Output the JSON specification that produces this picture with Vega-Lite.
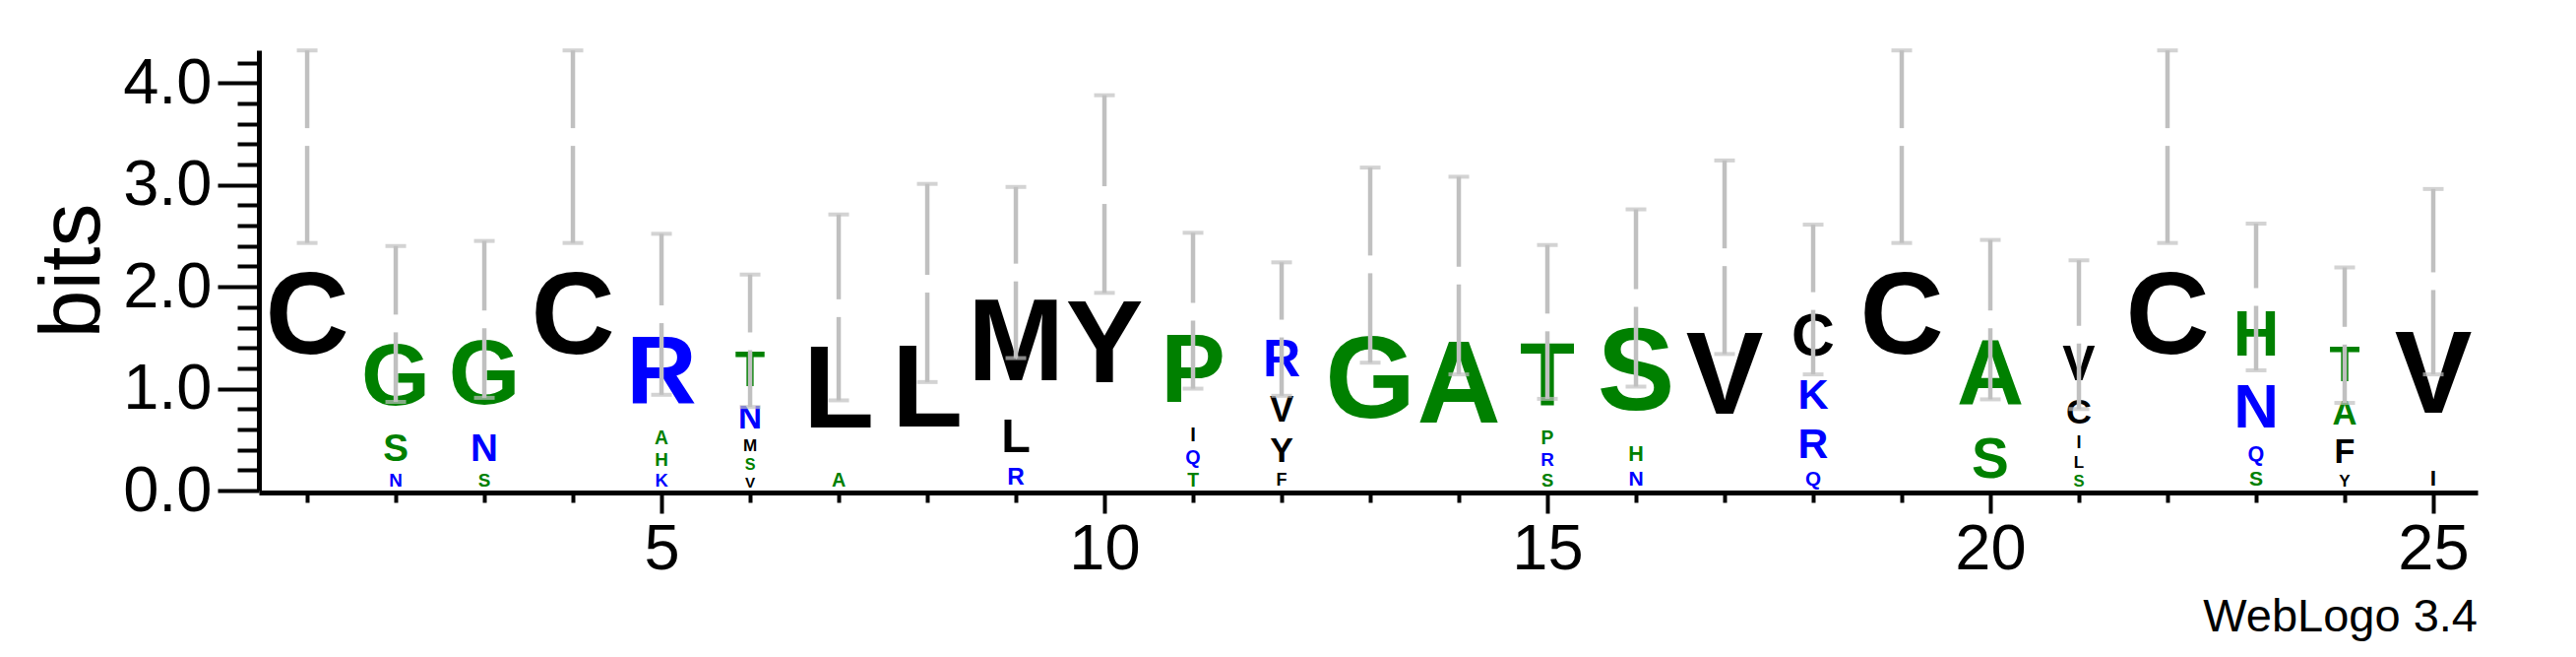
{
  "$schema": "https://vega.github.io/schema/vega-lite/v6.json",
  "width": 2254,
  "height": 447,
  "autosize": {"type": "none"},
  "padding": {"left": 263, "top": 51, "right": 100, "bottom": 169},
  "background": "white",
  "config": {"view": {"stroke": null}, "axis": {"labelOverlap": false}},
  "title": {"text": "WebLogo 3.4", "orient": "bottom", "anchor": "end", "fontSize": 47, "fontWeight": "normal", "font": "Liberation Sans", "color": "black", "offset": 14},
  "resolve": {"axis": {"y": "independent"}},
  "datasets": {
    "letters": [
      {"pos": 1, "letter": "C", "bits": 3.47},
      {"pos": 2, "letter": "N", "bits": 0.21}, {"pos": 2, "letter": "S", "bits": 0.43}, {"pos": 2, "letter": "G", "bits": 1.0},
      {"pos": 3, "letter": "S", "bits": 0.21}, {"pos": 3, "letter": "N", "bits": 0.43}, {"pos": 3, "letter": "G", "bits": 1.04},
      {"pos": 4, "letter": "C", "bits": 3.47},
      {"pos": 5, "letter": "K", "bits": 0.205}, {"pos": 5, "letter": "H", "bits": 0.21}, {"pos": 5, "letter": "A", "bits": 0.215}, {"pos": 5, "letter": "R", "bits": 1.1},
      {"pos": 6, "letter": "V", "bits": 0.17}, {"pos": 6, "letter": "S", "bits": 0.18}, {"pos": 6, "letter": "M", "bits": 0.19}, {"pos": 6, "letter": "N", "bits": 0.37}, {"pos": 6, "letter": "T", "bits": 0.555},
      {"pos": 7, "letter": "A", "bits": 0.22}, {"pos": 7, "letter": "L", "bits": 1.57},
      {"pos": 8, "letter": "L", "bits": 2.03},
      {"pos": 9, "letter": "R", "bits": 0.27}, {"pos": 9, "letter": "L", "bits": 0.54}, {"pos": 9, "letter": "M", "bits": 1.33},
      {"pos": 10, "letter": "Y", "bits": 2.9},
      {"pos": 11, "letter": "T", "bits": 0.215}, {"pos": 11, "letter": "Q", "bits": 0.22}, {"pos": 11, "letter": "I", "bits": 0.225}, {"pos": 11, "letter": "P", "bits": 1.095},
      {"pos": 12, "letter": "F", "bits": 0.2}, {"pos": 12, "letter": "Y", "bits": 0.395}, {"pos": 12, "letter": "V", "bits": 0.405}, {"pos": 12, "letter": "R", "bits": 0.59},
      {"pos": 13, "letter": "G", "bits": 2.22},
      {"pos": 14, "letter": "A", "bits": 2.11},
      {"pos": 15, "letter": "S", "bits": 0.205}, {"pos": 15, "letter": "R", "bits": 0.21}, {"pos": 15, "letter": "P", "bits": 0.215}, {"pos": 15, "letter": "T", "bits": 1.02},
      {"pos": 16, "letter": "N", "bits": 0.235}, {"pos": 16, "letter": "H", "bits": 0.24}, {"pos": 16, "letter": "S", "bits": 1.415},
      {"pos": 17, "letter": "V", "bits": 2.29},
      {"pos": 18, "letter": "Q", "bits": 0.23}, {"pos": 18, "letter": "R", "bits": 0.475}, {"pos": 18, "letter": "K", "bits": 0.48}, {"pos": 18, "letter": "C", "bits": 0.675},
      {"pos": 19, "letter": "C", "bits": 3.47},
      {"pos": 20, "letter": "S", "bits": 0.63}, {"pos": 20, "letter": "A", "bits": 1.05},
      {"pos": 21, "letter": "S", "bits": 0.185}, {"pos": 21, "letter": "L", "bits": 0.19}, {"pos": 21, "letter": "I", "bits": 0.2}, {"pos": 21, "letter": "C", "bits": 0.4}, {"pos": 21, "letter": "V", "bits": 0.555},
      {"pos": 22, "letter": "C", "bits": 3.47},
      {"pos": 23, "letter": "S", "bits": 0.235}, {"pos": 23, "letter": "Q", "bits": 0.24}, {"pos": 23, "letter": "N", "bits": 0.705}, {"pos": 23, "letter": "H", "bits": 0.72},
      {"pos": 24, "letter": "Y", "bits": 0.19}, {"pos": 24, "letter": "F", "bits": 0.38}, {"pos": 24, "letter": "A", "bits": 0.385}, {"pos": 24, "letter": "T", "bits": 0.565},
      {"pos": 25, "letter": "I", "bits": 0.255}, {"pos": 25, "letter": "V", "bits": 1.8}
    ],
    "errors": [
      {"pos": 1, "low": 2.43, "high": 4.32, "total": 3.47},
      {"pos": 2, "low": 0.87, "high": 2.4, "total": 1.64},
      {"pos": 3, "low": 0.91, "high": 2.45, "total": 1.68},
      {"pos": 4, "low": 2.43, "high": 4.32, "total": 3.47},
      {"pos": 5, "low": 0.94, "high": 2.52, "total": 1.73},
      {"pos": 6, "low": 0.82, "high": 2.12, "total": 1.465},
      {"pos": 7, "low": 0.885, "high": 2.71, "total": 1.79},
      {"pos": 8, "low": 1.065, "high": 3.01, "total": 2.03},
      {"pos": 9, "low": 1.3, "high": 2.98, "total": 2.14},
      {"pos": 10, "low": 1.94, "high": 3.88, "total": 2.9},
      {"pos": 11, "low": 1.0, "high": 2.53, "total": 1.755},
      {"pos": 12, "low": 0.93, "high": 2.24, "total": 1.59},
      {"pos": 13, "low": 1.255, "high": 3.17, "total": 2.22},
      {"pos": 14, "low": 1.14, "high": 3.08, "total": 2.11},
      {"pos": 15, "low": 0.9, "high": 2.41, "total": 1.65},
      {"pos": 16, "low": 1.02, "high": 2.76, "total": 1.89},
      {"pos": 17, "low": 1.34, "high": 3.24, "total": 2.29},
      {"pos": 18, "low": 1.14, "high": 2.61, "total": 1.86},
      {"pos": 19, "low": 2.43, "high": 4.32, "total": 3.47},
      {"pos": 20, "low": 0.895, "high": 2.46, "total": 1.68},
      {"pos": 21, "low": 0.8, "high": 2.26, "total": 1.53},
      {"pos": 22, "low": 2.43, "high": 4.32, "total": 3.47},
      {"pos": 23, "low": 1.18, "high": 2.62, "total": 1.9},
      {"pos": 24, "low": 0.86, "high": 2.19, "total": 1.52},
      {"pos": 25, "low": 1.14, "high": 2.96, "total": 2.055}
    ]
  },
  "encoding": {
    "x": {
      "field": "pos", "type": "quantitative",
      "scale": {"domain": [0.455, 25.5], "nice": false, "zero": false},
      "axis": {
        "title": null, "grid": false, "offset": 2, "labelOverlap": false,
        "values": [1,2,3,4,5,6,7,8,9,10,11,12,13,14,15,16,17,18,19,20,21,22,23,24,25],
        "labelExpr": "datum.value % 5 === 0 ? datum.label : ''",
        "labelFont": "Liberation Sans", "labelFontSize": 65, "labelColor": "black", "labelPadding": 5,
        "tickSize": {"condition": {"test": "datum.value % 5 === 0", "value": 21}, "value": 10},
        "tickWidth": 4, "tickColor": "black", "domainWidth": 5, "domainColor": "black"
      }
    }
  },
  "layer": [
    {
      "data": {"name": "letters"},
      "transform": [
        {"stack": "bits", "groupby": ["pos"], "sort": [{"field": "bits", "order": "ascending"}], "as": ["b0", "b1"]}
      ],
      "mark": {
        "type": "text", "font": "Liberation Sans", "fontWeight": "bold", "align": "center", "baseline": "middle",
        "dy": {"expr": "(scale('y', datum.b1) - scale('y', datum.b0)) / 2 + 0.045 * min(89.9 * datum.bits, 118)"}
      },
      "encoding": {
        "y": {
          "field": "b0", "type": "quantitative",
          "scale": {"domain": [0, 4.3219], "nice": false},
          "axis": {
            "orient": "left",
            "title": "bits", "titleFont": "Liberation Sans", "titleFontSize": 88, "titleFontWeight": "normal", "titleColor": "black", "titlePadding": 6,
            "grid": false, "labelOverlap": false,
            "values": [0,0.2,0.4,0.6,0.8,1,1.2,1.4,1.6,1.8,2,2.2,2.4,2.6,2.8,3,3.2,3.4,3.6,3.8,4,4.2],
            "labelExpr": "datum.value % 1 === 0 ? format(datum.value, '.1f') : ''",
            "labelFont": "Liberation Sans", "labelFontSize": 65, "labelColor": "black", "labelPadding": 6,
            "tickSize": {"condition": {"test": "datum.value % 1 === 0", "value": 42}, "value": 22},
            "tickWidth": 4, "tickColor": "black", "domainWidth": 5, "domainColor": "black"
          }
        },
        "text": {"field": "letter"},
        "size": {"field": "bits", "type": "quantitative", "scale": {"type": "linear", "domain": [0, 1.3126], "range": [0, 118], "clamp": true, "zero": true}, "legend": null},
        "color": {
          "field": "letter", "type": "nominal", "legend": null,
          "scale": {
            "domain": ["A","C","F","G","H","I","K","L","M","N","P","Q","R","S","T","V","Y"],
            "range": ["#008000","#000000","#000000","#008000","#008000","#000000","#0000ff","#000000","#000000","#0000ff","#008000","#0000ff","#0000ff","#008000","#008000","#000000","#000000"]
          }
        }
      }
    },
    {
      "data": {"name": "errors"},
      "mark": {"type": "rule", "color": "#c0c0c0", "strokeWidth": 4.5, "y2Offset": 9},
      "encoding": {"y": {"field": "low", "type": "quantitative", "axis": null}, "y2": {"field": "total"}}
    },
    {
      "data": {"name": "errors"},
      "mark": {"type": "rule", "color": "#c0c0c0", "strokeWidth": 4.5, "yOffset": -9},
      "encoding": {"y": {"field": "total", "type": "quantitative", "axis": null}, "y2": {"field": "high"}}
    },
    {
      "data": {"name": "errors"},
      "mark": {"type": "tick", "orient": "horizontal", "color": "#c0c0c0", "size": 21, "thickness": 4},
      "encoding": {"y": {"field": "low", "type": "quantitative", "axis": null}}
    },
    {
      "data": {"name": "errors"},
      "mark": {"type": "tick", "orient": "horizontal", "color": "#c0c0c0", "size": 21, "thickness": 4},
      "encoding": {"y": {"field": "high", "type": "quantitative", "axis": null}}
    }
  ]
}
